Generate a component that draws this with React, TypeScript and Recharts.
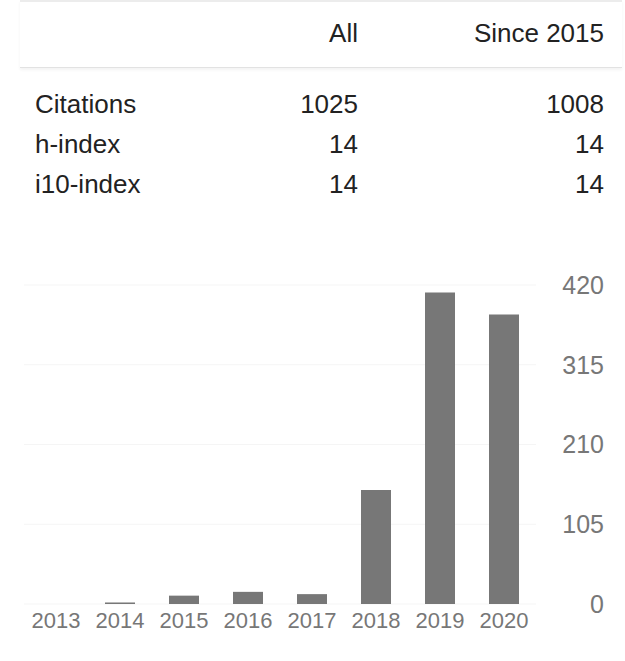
import React from "react";
import { BarChart, Bar, XAxis, YAxis, CartesianGrid } from "recharts";

// citation table
const tableColumns = ["All", "Since 2015"];
const tableRows = ["Citations", "h-index", "i10-index"];
const allValues = [1025, 14, 14];
const sinceValues = [1008, 14, 14];

// citations per year
const years = ["2013", "2014", "2015", "2016", "2017", "2018", "2019", "2020"];
const citations = [0, 2, 11, 16, 13, 150, 410, 381];
const yTicks = [0, 105, 210, 315, 420];

const data = years.map((year, i) => ({ year, citations: citations[i] }));

const FONT = "'Liberation Sans', Arial, sans-serif";

// right-aligned labels for the right-hand axis
function RightTick(props: any) {
  const { x, y, payload } = props;
  return (
    <text x={x + 62} y={y} dy="0.355em" textAnchor="end" fill="#777" fontSize={25} fontFamily={FONT}>
      {payload.value}
    </text>
  );
}

export default function App() {
  return (
    <div style={{ position: "absolute", left: 0, top: 0, width: 625, height: 661, background: "#fff", fontFamily: FONT, color: "#222", overflow: "hidden" }}>
      {/* top edge */}
      <div style={{ position: "absolute", left: 20, top: 0, width: 602, height: 2, background: "#ececec" }} />

      {/* header */}
      <div style={{ position: "absolute", left: 20, top: 0, width: 602, height: 67, display: "flex", alignItems: "center", fontSize: 26, borderBottom: "1px solid #e2e2e2", boxShadow: "0 2px 3px rgba(0,0,0,0.05)" }}>
        <div style={{ width: 200 }} />
        <div style={{ width: 138, textAlign: "right" }}>{tableColumns[0]}</div>
        <div style={{ width: 246, textAlign: "right" }}>{tableColumns[1]}</div>
      </div>

      {/* rows */}
      <div style={{ position: "absolute", left: 20, top: 84, width: 602, fontSize: 26 }}>
        {tableRows.map((label, i) => (
          <div key={label} style={{ display: "flex", height: 40, alignItems: "center" }}>
            <div style={{ width: 185, paddingLeft: 15 }}>{label}</div>
            <div style={{ width: 138, textAlign: "right" }}>{allValues[i]}</div>
            <div style={{ width: 246, textAlign: "right" }}>{sinceValues[i]}</div>
          </div>
        ))}
      </div>

      {/* chart */}
      <div style={{ position: "absolute", left: 0, top: 260 }}>
        <BarChart width={625} height={380} data={data} margin={{ top: 25, right: 9, left: 24, bottom: 0 }} barCategoryGap={0}>
          <CartesianGrid vertical={false} stroke="#f5f5f5" />
          <XAxis
            dataKey="year"
            axisLine={false}
            tickLine={false}
            height={36}
            interval={0}
            tick={{ fill: "#777", fontSize: 22, fontFamily: FONT }}
          />
          <YAxis
            orientation="right"
            width={80}
            domain={[0, 420]}
            ticks={yTicks}
            axisLine={false}
            tickLine={false}
            tickMargin={0}
            tick={<RightTick />}
          />
          <Bar dataKey="citations" fill="#777" barSize={30} isAnimationActive={false} />
        </BarChart>
      </div>
    </div>
  );
}
